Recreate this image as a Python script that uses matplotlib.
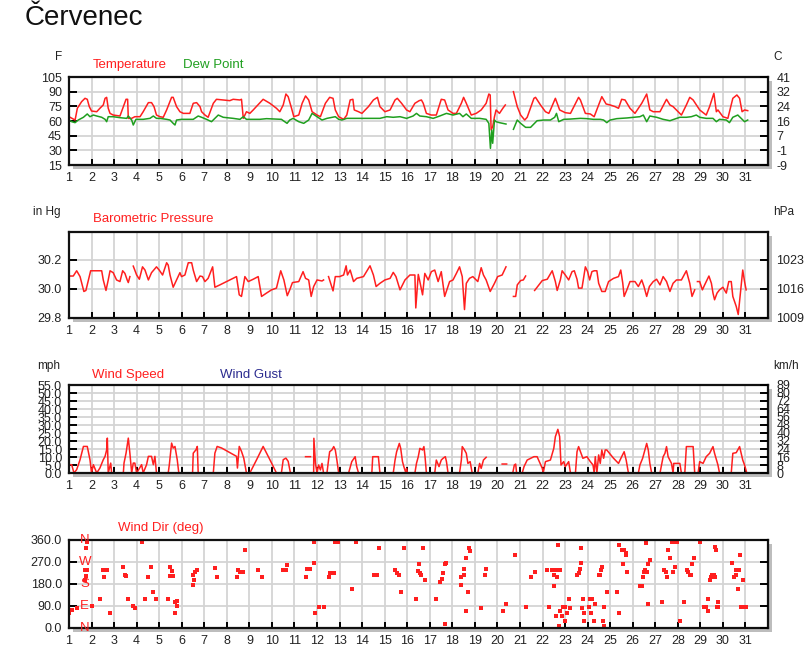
import numpy as np
import matplotlib
matplotlib.use("Agg")
import matplotlib.pyplot as plt
from matplotlib.patches import Rectangle
from matplotlib.transforms import blended_transform_factory

plt.rcParams['font.family'] = ['Liberation Sans', 'DejaVu Sans']

nan = np.nan

month_title = "Červenec"
days = list(range(1, 32))

# (day of month, °F)
temperature = [
    (1.00, 64.4), (1.27, 61.0), (1.37, 73.0), (1.56, 79.8), (1.71, 83.2), (1.81, 82.2), (1.90, 74.7),
    (2.00, 70.2), (2.23, 69.5), (2.37, 73.0), (2.52, 76.4), (2.60, 83.2), (2.67, 84.2), (2.74, 73.0),
    (2.82, 67.8), (2.96, 66.1), (3.26, 65.1), (3.41, 74.7), (3.53, 82.2), (3.60, 82.2), (3.63, 62.7),
    (3.78, 62.7), (3.92, 64.4), (4.15, 64.4), (4.29, 69.5), (4.52, 78.8), (4.66, 78.8), (4.77, 74.7),
    (4.88, 66.1), (5.03, 64.4), (5.18, 63.8), (5.33, 71.3), (5.55, 84.2), (5.62, 84.2), (5.77, 74.7),
    (5.92, 69.5), (6.07, 67.8), (6.36, 67.8), (6.51, 78.1), (6.66, 78.8), (6.81, 74.7), (6.88, 69.5),
    (7.03, 66.1), (7.17, 63.8), (7.40, 78.1), (7.54, 82.2), (7.84, 81.5), (8.13, 80.8), (8.28, 82.2),
    (8.58, 81.5), (8.65, 82.2), (8.73, 62.7), (8.87, 69.5), (9.02, 67.8), (9.17, 71.3), (9.61, 82.2),
    (9.91, 78.1), (10.20, 73.0), (10.35, 69.5), (10.50, 76.4), (10.62, 87.6), (10.72, 84.9), (10.87, 73.0),
    (10.97, 64.4), (11.19, 66.1), (11.34, 78.1), (11.49, 85.6), (11.63, 81.5), (11.78, 69.5), (12.00, 66.1),
    (12.15, 64.4), (12.37, 78.1), (12.56, 84.2), (12.71, 83.2), (12.81, 71.3), (12.96, 64.4), (13.18, 61.7),
    (13.32, 66.1), (13.47, 81.5), (13.59, 82.2), (13.65, 71.3), (13.84, 69.5), (13.99, 67.8), (14.28, 74.7),
    (14.50, 81.5), (14.68, 84.2), (14.79, 74.7), (15.01, 69.5), (15.24, 71.3), (15.46, 81.5), (15.56, 83.2),
    (15.75, 78.1), (15.97, 71.3), (16.12, 69.5), (16.34, 78.1), (16.53, 80.8), (16.63, 81.5), (16.71, 78.1),
    (16.85, 67.8), (17.07, 66.1), (17.29, 66.1), (17.51, 82.2), (17.66, 81.5), (17.81, 71.3), (18.03, 67.8),
    (18.18, 67.8), (18.40, 78.1), (18.50, 84.2), (18.62, 78.1), (18.84, 66.1), (19.06, 67.8), (19.28, 71.3),
    (19.50, 78.1), (19.62, 87.6), (19.68, 86.6), (19.72, 50.8), (19.79, 54.2), (19.87, 64.4), (19.94, 71.3),
    (20.09, 67.8), (20.24, 73.0), (20.35, 76.4), (20.50, nan), (20.71, 90.0), (20.88, 74.7), (21.03, 66.1),
    (21.21, 61.0), (21.32, 63.8), (21.62, 83.2), (21.69, 84.2), (21.91, 76.4), (22.13, 69.5), (22.28, 67.8),
    (22.35, 71.3), (22.57, 83.2), (22.76, 71.3), (23.01, 68.5), (23.24, 67.8), (23.60, 84.2), (23.68, 81.5),
    (23.90, 67.8), (24.12, 67.2), (24.29, 64.4), (24.63, 84.9), (24.82, 77.4), (25.00, 76.4), (25.22, 74.7),
    (25.37, 73.0), (25.51, 82.2), (25.66, 81.5), (25.88, 73.0), (26.10, 67.8), (26.40, 78.1), (26.62, 87.6),
    (26.76, 71.3), (26.91, 69.5), (27.21, 69.5), (27.50, 82.2), (27.65, 76.4), (27.79, 74.7), (28.16, 66.1),
    (28.38, 76.4), (28.53, 84.2), (28.68, 81.5), (28.97, 71.3), (29.26, 66.1), (29.41, 74.7), (29.60, 88.3),
    (29.71, 69.5), (29.78, 71.3), (30.00, 64.4), (30.22, 62.7), (30.44, 83.2), (30.62, 86.6), (30.74, 83.2),
    (30.85, 69.5), (30.96, 71.3), (31.10, 70.6),
]

# (day of month, °F)
dew_point = [
    (1.00, 61.0), (1.12, 59.3), (1.27, 58.3), (1.41, 61.0), (1.64, 63.8), (1.81, 67.2), (1.93, 64.4),
    (2.08, 66.1), (2.23, 65.1), (2.45, 63.8), (2.60, 61.7), (2.67, 59.3), (2.74, 64.4), (2.96, 64.4),
    (3.26, 63.4), (3.56, 62.7), (3.63, 65.1), (3.78, 61.0), (3.85, 55.9), (3.97, 61.7), (4.29, 61.7),
    (4.59, 62.7), (4.74, 65.1), (4.88, 62.7), (5.03, 62.7), (5.33, 61.7), (5.48, 61.0), (5.62, 57.6),
    (5.70, 55.9), (5.77, 61.0), (5.99, 61.7), (6.51, 61.7), (6.73, 65.1), (6.88, 63.8), (7.10, 61.7),
    (7.32, 59.3), (7.54, 64.4), (7.62, 66.1), (7.84, 63.8), (8.28, 62.7), (8.58, 61.7), (8.73, 64.4),
    (8.87, 61.7), (9.46, 61.7), (9.76, 62.4), (10.20, 62.0), (10.42, 61.7), (10.57, 59.3), (10.67, 57.6),
    (10.79, 61.0), (10.94, 62.7), (11.19, 59.3), (11.41, 57.6), (11.63, 61.0), (11.78, 67.8), (12.00, 64.4),
    (12.22, 61.0), (12.44, 62.7), (12.81, 64.4), (12.96, 61.7), (13.10, 61.0), (13.32, 62.7), (14.06, 62.7),
    (14.79, 62.7), (15.09, 64.4), (15.38, 63.8), (15.68, 64.4), (15.97, 62.7), (16.26, 65.1), (16.41, 67.8),
    (16.56, 65.1), (16.85, 64.4), (17.15, 62.7), (17.44, 65.1), (17.74, 67.8), (18.03, 66.1), (18.32, 67.8),
    (18.47, 64.4), (18.62, 67.2), (18.84, 62.7), (19.21, 62.7), (19.50, 61.7), (19.62, 57.6), (19.69, 32.0),
    (19.75, 50.8), (19.79, 37.2), (19.87, 61.0), (19.94, 59.3), (20.09, 58.3), (20.38, 56.9), (20.50, nan),
    (20.71, 51.5), (20.88, 61.0), (21.03, 57.6), (21.25, 53.5), (21.47, 53.5), (21.76, 60.3), (22.06, 61.0),
    (22.35, 61.0), (22.54, 63.8), (22.62, 67.8), (22.72, 59.3), (22.94, 61.7), (23.24, 62.0), (23.68, 62.7),
    (23.97, 62.4), (24.26, 61.7), (24.56, 61.7), (24.71, 61.0), (24.85, 58.3), (25.00, 61.0), (25.29, 62.4),
    (25.74, 63.1), (26.03, 63.8), (26.32, 64.4), (26.47, 66.1), (26.62, 59.3), (26.76, 65.1), (27.06, 63.8),
    (27.35, 61.7), (27.50, 61.0), (27.65, 60.3), (28.09, 63.8), (28.38, 63.8), (28.60, 64.4), (28.82, 66.1),
    (28.97, 63.8), (29.26, 62.7), (29.56, 62.7), (29.71, 59.3), (29.85, 61.7), (30.15, 61.0), (30.29, 58.3),
    (30.44, 63.8), (30.66, 66.1), (30.85, 61.7), (30.96, 59.3), (31.10, 61.0),
]

# (day of month, inHg)
pressure = [
    (1.00, 30.088), (1.19, 30.088), (1.34, 30.124), (1.49, 30.084), (1.66, 29.982), (1.75, 29.989),
    (1.86, 30.061), (1.96, 30.124), (2.45, 30.124), (2.52, 30.061), (2.64, 29.989), (2.74, 30.061),
    (2.82, 30.124), (2.96, 30.111), (3.11, 30.061), (3.26, 30.050), (3.38, 30.124), (3.48, 30.106),
    (3.58, 30.061), (3.63, 30.043), (3.70, 30.084), (3.78, nan), (3.85, 30.156), (4.00, 30.095),
    (4.12, 30.066), (4.26, 30.151), (4.37, 30.129), (4.52, 30.061), (4.66, 30.111), (4.88, 30.151),
    (5.00, 30.129), (5.15, 30.095), (5.33, 30.179), (5.40, 30.163), (5.48, 30.095), (5.62, 30.011),
    (5.77, 30.061), (5.92, 30.111), (5.99, 30.084), (6.14, 30.095), (6.29, 30.179), (6.44, 30.179),
    (6.51, 30.129), (6.66, 30.050), (6.81, 30.088), (6.92, 30.084), (7.03, 30.050), (7.17, 30.072),
    (7.37, 30.151), (7.47, 30.011), (7.69, 30.027), (7.99, 30.050), (8.28, 30.072), (8.43, 30.084),
    (8.55, 29.959), (8.65, 29.948), (8.80, 30.084), (8.95, 30.050), (9.17, 30.066), (9.39, 30.084),
    (9.54, 29.948), (9.76, 29.971), (9.98, 29.993), (10.20, 30.005), (10.39, 30.124), (10.53, 30.061),
    (10.68, 29.953), (10.79, 29.993), (10.91, 30.043), (11.19, 30.050), (11.38, 30.118), (11.49, 30.072),
    (11.63, 30.061), (11.74, 29.948), (11.85, 30.016), (12.00, 30.061), (12.22, 30.054), (12.29, 30.061),
    (12.40, nan), (12.51, 30.084), (12.71, 29.986), (12.81, 30.084), (13.00, 30.084), (13.18, 30.095),
    (13.29, 30.158), (13.35, 30.095), (13.47, 30.129), (13.62, 30.050), (13.76, 30.072), (14.06, 30.084),
    (14.35, 30.158), (14.50, 30.095), (14.62, 30.016), (14.79, 30.038), (15.01, 30.061), (15.24, 30.072),
    (15.38, 30.113), (15.50, 30.084), (15.68, 29.993), (15.90, 30.061), (16.12, 30.095), (16.34, 30.095),
    (16.38, 29.869), (16.49, 30.099), (16.56, 30.050), (16.68, 29.959), (16.78, 30.106), (16.93, 30.061),
    (17.07, 30.118), (17.22, 30.129), (17.37, 30.050), (17.51, 30.118), (17.66, 29.948), (17.88, 30.050),
    (18.03, 30.061), (18.18, 30.106), (18.32, 30.151), (18.44, 30.084), (18.54, 29.858), (18.62, 30.038),
    (18.76, 30.072), (18.91, 30.084), (19.13, 30.050), (19.28, 30.145), (19.38, 30.095), (19.50, 30.061),
    (19.68, 29.982), (19.87, 30.038), (20.01, 30.084), (20.21, 30.095), (20.38, 30.151), (20.50, nan),
    (20.71, 29.948), (20.81, 29.948), (20.88, 30.027), (21.03, 30.057), (21.15, 30.061), (21.25, 30.088),
    (21.40, nan), (21.65, 29.989), (21.84, 30.027), (21.99, 30.057), (22.21, 30.066), (22.43, 30.124),
    (22.57, 30.050), (22.65, 29.989), (22.79, 30.061), (22.87, 30.124), (23.01, 30.095), (23.16, 30.061),
    (23.31, 30.118), (23.41, 30.124), (23.53, 30.066), (23.60, 30.005), (23.75, 30.005), (23.90, 30.151),
    (24.00, 30.118), (24.09, 30.061), (24.19, 30.118), (24.29, 30.124), (24.41, 30.124), (24.49, 30.038),
    (24.63, 29.982), (24.78, 29.982), (24.93, 30.050), (25.15, 30.072), (25.37, 30.084), (25.47, 30.129),
    (25.56, 30.038), (25.62, 29.948), (25.74, 29.993), (25.88, 30.050), (26.10, 30.050), (26.25, 30.016),
    (26.40, 30.061), (26.50, 30.016), (26.62, 29.948), (26.74, 30.016), (26.91, 30.050), (27.06, 30.066),
    (27.21, 30.027), (27.35, 30.084), (27.50, 30.050), (27.65, 29.982), (27.79, 30.038), (27.94, 30.061),
    (28.16, 30.061), (28.38, 30.124), (28.53, 30.038), (28.63, 29.948), (28.75, 29.993), (28.81, nan),
    (28.87, 30.050), (28.97, 30.050), (29.09, 29.993), (29.19, 30.027), (29.38, 30.088), (29.49, 30.038),
    (29.56, 29.971), (29.63, 29.925), (29.74, 29.971), (29.85, 29.993), (30.00, 30.011), (30.15, 29.971),
    (30.26, 30.050), (30.37, 30.050), (30.44, 29.948), (30.59, 29.880), (30.68, 29.824), (30.76, 29.948),
    (30.88, 30.129), (30.96, 30.050), (31.03, 29.993),
]

# (day of month, mph)
wind_speed = [
    (1.00, 5.2), (1.12, 5.2), (1.22, 0.0), (1.34, 2.1), (1.49, 8.3), (1.64, 16.6), (1.81, 16.6),
    (1.93, 8.3), (2.00, 0.0), (2.08, 5.2), (2.23, 0.0), (2.37, 3.1), (2.52, 8.3), (2.60, 10.4),
    (2.67, 14.5), (2.70, 21.8), (2.74, 0.0), (2.85, 6.2), (2.89, 0.0), (3.41, 0.0), (3.44, 6.2),
    (3.53, 12.4), (3.63, 21.8), (3.70, 12.4), (3.78, 0.0), (3.85, 6.2), (3.92, 6.2), (4.00, 0.0),
    (4.22, 5.2), (4.29, 0.0), (4.44, 5.2), (4.52, 10.4), (4.66, 10.4), (4.74, 5.2), (4.81, 10.4),
    (4.88, 0.0), (5.40, 0.0), (5.45, 5.2), (5.55, 18.7), (5.62, 15.6), (5.70, 16.6), (5.80, 8.3),
    (5.87, 0.0), (6.48, 0.0), (6.51, 12.4), (6.63, 14.5), (6.69, 16.6), (6.73, 0.0), (7.40, 0.0),
    (7.47, 12.4), (7.57, 16.6), (7.77, 15.6), (8.43, 10.4), (8.47, 3.1), (8.55, 16.6), (8.65, 13.5),
    (8.75, 9.3), (8.87, 0.0), (9.02, 0.0), (9.32, 8.3), (9.61, 16.6), (9.91, 8.3), (10.20, 0.0),
    (10.42, 0.0), (10.50, 8.3), (10.62, 9.3), (10.72, 7.3), (10.82, 0.0), (11.40, nan), (11.49, 10.2),
    (11.71, 10.2), (11.80, nan), (11.85, 0.0), (11.86, 21.7), (11.93, 6.0), (12.00, 0.0), (12.07, 5.0),
    (12.15, 1.9), (12.22, 6.0), (12.29, 0.0), (12.44, 0.0), (12.51, 8.1), (12.56, 13.3), (12.66, 14.4),
    (12.74, 16.5), (12.81, 14.4), (12.88, 8.1), (12.96, 0.0), (13.40, 0.0), (13.54, 7.1), (13.69, 10.2),
    (13.76, 4.0), (13.84, 0.0), (14.43, 0.0), (14.47, 10.2), (14.72, 10.2), (14.79, 0.0), (15.38, 0.0),
    (15.46, 8.1), (15.53, 13.3), (15.65, 18.5), (15.71, 15.4), (15.79, 7.1), (15.85, 4.0), (15.94, 0.0),
    (15.97, 2.9), (16.01, 0.0), (16.34, 0.0), (16.41, 6.0), (16.49, 10.2), (16.56, 15.4), (16.68, 14.4),
    (16.74, 16.5), (16.79, 10.2), (16.85, 0.0), (17.22, 0.0), (17.29, 8.1), (17.41, 4.0), (17.51, 8.1),
    (17.59, 9.2), (17.69, 10.2), (17.74, 7.1), (17.81, 0.0), (18.32, 0.0), (18.40, 8.1), (18.44, 16.5),
    (18.54, 14.4), (18.62, 12.3), (18.69, 6.0), (18.79, 7.1), (18.88, 0.0), (19.13, 0.0), (19.21, 6.0),
    (19.28, 2.9), (19.38, 8.1), (19.50, 9.8), (19.60, nan), (20.21, 5.6), (20.41, 5.6), (20.55, nan),
    (20.68, 0.0), (20.75, 5.0), (20.81, 5.6), (20.85, 0.0), (21.10, 0.0), (21.18, 4.0), (21.32, 8.1),
    (21.62, 10.2), (21.76, 10.2), (21.99, 2.9), (22.03, 0.0), (22.13, 7.1), (22.35, 8.1), (22.50, 15.4),
    (22.57, 22.7), (22.68, 27.3), (22.76, 22.7), (22.82, 5.0), (22.94, 7.1), (23.01, 4.0), (23.16, 7.1),
    (23.24, 0.0), (23.46, 0.0), (23.53, 13.3), (23.60, 16.5), (23.71, 12.3), (23.79, 9.2), (23.97, 10.2),
    (24.12, 7.1), (24.24, 5.0), (24.29, 0.0), (24.34, 10.2), (24.41, 0.0), (24.49, 11.3), (24.56, 6.0),
    (24.63, 14.4), (24.71, 9.2), (24.78, 14.4), (24.85, 14.4), (25.15, 9.2), (25.37, 6.0), (25.51, 10.2),
    (25.62, 13.3), (25.71, 8.1), (25.81, 0.0), (26.25, 0.0), (26.32, 5.0), (26.44, 9.2), (26.54, 14.4),
    (26.62, 18.5), (26.69, 14.4), (26.76, 6.0), (26.84, 0.0), (27.21, 0.0), (27.35, 10.2), (27.43, 12.3),
    (27.50, 16.5), (27.57, 10.2), (27.72, 6.0), (27.79, 0.0), (27.82, 6.0), (28.09, 6.0), (28.16, 0.0),
    (28.31, 0.0), (28.38, 16.5), (28.68, 16.5), (28.75, 0.0), (28.90, 0.0), (28.97, 7.1), (29.12, 6.0),
    (29.26, 10.2), (29.41, 12.3), (29.56, 16.5), (29.63, 12.3), (29.78, 5.0), (29.85, 0.0), (30.37, 0.0),
    (30.44, 12.3), (30.59, 12.7), (30.74, 16.5), (30.81, 12.3), (30.88, 8.1), (30.96, 5.0), (31.06, 0.0),
]

# (day of month, degrees)
wind_direction = [
    (1.00, 61), (1.12, 72), (1.34, 82), (1.82, 353), (1.75, 326), (1.71, 238), (1.78, 238), (1.75, 213),
    (1.71, 197), (2.00, 88), (2.37, 118), (2.52, 238), (2.67, 238), (2.55, 208), (2.82, 61), (3.41, 249),
    (3.48, 217), (3.53, 211), (3.63, 118), (3.85, 88), (3.93, 82), (4.22, 353), (4.37, 118), (4.52, 208),
    (4.62, 249), (4.74, 149), (4.84, 118), (5.40, 118), (5.50, 249), (5.55, 235), (5.50, 211), (5.62, 211),
    (5.70, 105), (5.70, 61), (5.77, 88), (5.77, 109), (6.48, 177), (6.54, 197), (6.51, 217), (6.58, 231),
    (6.66, 238), (7.47, 245), (7.57, 208), (8.43, 208), (8.50, 238), (8.58, 231), (8.70, 231), (8.80, 319),
    (9.39, 238), (9.58, 208), (10.50, 238), (10.62, 238), (10.68, 258), (11.56, 240), (11.70, 240),
    (11.49, 207), (11.88, 353), (11.88, 265), (11.93, 60), (12.07, 85), (12.29, 85), (12.51, 207),
    (12.59, 226), (12.74, 226), (12.81, 353), (12.91, 353), (13.54, 158), (13.74, 353), (14.53, 217),
    (14.65, 217), (14.74, 329), (15.46, 237), (15.56, 226), (15.65, 217), (15.71, 149), (15.85, 329),
    (16.38, 117), (16.53, 260), (16.49, 235), (16.56, 226), (16.63, 217), (16.70, 329), (16.78, 196),
    (17.29, 117), (17.47, 190), (17.54, 199), (17.59, 226), (17.66, 262), (17.74, 265), (17.69, 16),
    (18.37, 176), (18.40, 207), (18.50, 217), (18.54, 240), (18.59, 71), (18.62, 285), (18.69, 149),
    (18.76, 326), (18.79, 316), (19.28, 80), (19.43, 217), (19.50, 240), (20.26, 71), (20.40, 97),
    (20.78, 298), (21.25, 85), (21.50, 207), (21.66, 228), (22.18, 237), (22.28, 85), (22.43, 237),
    (22.50, 217), (22.53, 170), (22.57, 237), (22.65, 207), (22.68, 237), (22.69, 340), (22.76, 237),
    (22.62, 49), (22.74, 8), (22.79, 71), (22.87, 49), (22.91, 85), (22.99, 85), (23.01, 30), (23.09, 60),
    (23.16, 117), (23.21, 80), (23.53, 217), (23.60, 226), (23.65, 240), (23.71, 267), (23.71, 329),
    (23.79, 117), (23.75, 80), (23.85, 60), (23.82, 29), (24.04, 85), (24.09, 117), (24.19, 117),
    (24.16, 60), (24.29, 29), (24.34, 97), (24.49, 217), (24.56, 217), (24.60, 237), (24.63, 251),
    (24.68, 29), (24.74, 85), (24.74, 8), (24.85, 149), (25.29, 149), (25.37, 60), (25.41, 340),
    (25.51, 319), (25.62, 319), (25.71, 308), (25.71, 299), (25.59, 262), (25.76, 228), (26.32, 170),
    (26.40, 170), (26.44, 207), (26.50, 228), (26.54, 237), (26.62, 228), (26.59, 349), (26.69, 262),
    (26.76, 278), (26.66, 97), (27.28, 108), (27.38, 237), (27.46, 228), (27.53, 207), (27.57, 319),
    (27.65, 288), (27.76, 353), (27.87, 353), (27.97, 353), (27.79, 228), (27.87, 248), (28.09, 29),
    (28.26, 108), (28.41, 237), (28.46, 228), (28.53, 217), (28.60, 217), (28.65, 262), (28.71, 288),
    (28.97, 353), (29.15, 85), (29.24, 85), (29.34, 117), (29.34, 71), (29.41, 196), (29.49, 207),
    (29.53, 217), (29.59, 217), (29.63, 207), (29.68, 319), (29.63, 330), (29.74, 85), (29.78, 108),
    (29.78, 87), (30.41, 267), (30.49, 207), (30.56, 237), (30.59, 217), (30.66, 237), (30.72, 237),
    (30.69, 160), (30.76, 299), (30.88, 196), (30.81, 85), (30.96, 85), (31.03, 85),
]

temp_ticks = [15, 30, 45, 60, 75, 90, 105]
temp_c_labels = ["-9", "-1", "7", "16", "24", "32", "41"]
baro_ticks = [29.8, 30.0, 30.2]
baro_hpa_labels = ["1009", "1016", "1023"]
wind_ticks = [0, 5, 10, 15, 20, 25, 30, 35, 40, 45, 50, 55]
wind_kmh_labels = ["0", "8", "16", "24", "32", "40", "48", "56", "64", "72", "80", "89"]
dir_ticks = [0, 90, 180, 270, 360]
compass_labels = ["N", "E", "S", "W", "N"]

RED = "#ff1f1f"
GREEN = "#1f9f1f"
NAVY = "#2b2b8f"
TXT = "#222222"

W, H = 805, 646
fig = plt.figure(figsize=(W / 100, H / 100), dpi=100)
fig.patch.set_facecolor("white")

LEFT_PX, RIGHT_PX = 69, 768


def fx(px):
    return px / W


def fy(py):
    return 1 - py / H


def make_panel(top_px, bottom_px, yticks, ylabels, ylim, right_labels, show_right_labels=True):
    w = (RIGHT_PX - LEFT_PX) / W
    h = (bottom_px - top_px) / H
    # drop shadow behind the frame
    fig.patches.append(Rectangle((fx(LEFT_PX + 4), fy(bottom_px + 4)), w, h,
                                 transform=fig.transFigure, facecolor="#bdbdbd",
                                 edgecolor="none", zorder=-1))
    ax = fig.add_axes([fx(LEFT_PX), fy(bottom_px), w, h])
    ax.set_facecolor("white")
    ax.set_xlim(1, 32)
    ax.set_ylim(*ylim)
    ax.set_xticks(days)
    ax.set_xticklabels([str(d) for d in days])
    ax.set_yticks(yticks)
    ax.set_yticklabels(ylabels)
    ax.grid(True, color="#d4d4d4", linewidth=1.3)
    ax.set_axisbelow(True)
    for s in ax.spines.values():
        s.set_linewidth(1.6)
        s.set_color("#111111")
    ax.tick_params(axis="x", direction="in", length=4, width=1.4, pad=5,
                   labelsize=9, labelcolor=TXT, top=False)
    ax.tick_params(axis="y", direction="in", length=6, width=1.4, pad=5,
                   labelsize=9, labelcolor=TXT, right=False)
    r = ax.twinx()
    r.set_ylim(*ylim)
    r.set_yticks(yticks)
    if show_right_labels:
        r.set_yticklabels(right_labels)
    else:
        r.set_yticklabels([])
    r.tick_params(axis="y", direction="in", length=6, width=1.4, pad=6,
                  labelsize=9, labelcolor=TXT)
    for s in r.spines.values():
        s.set_visible(False)
    return ax


def unzip(pairs):
    t = np.array([p[0] for p in pairs], dtype=float)
    v = np.array([p[1] for p in pairs], dtype=float)
    return t, v


# Title
fig.text(fx(25), fy(18), month_title, fontsize=20, color="#111111", va="center", ha="left")

# Temperature / dew point
ax1 = make_panel(77, 165, temp_ticks, [str(v) for v in temp_ticks], (15, 105), temp_c_labels)
t, v = unzip(temperature)
ax1.plot(t, v, color=RED, lw=1.1)
t, v = unzip(dew_point)
ax1.plot(t, v, color=GREEN, lw=1.1)
fig.text(fx(62), fy(57), "F", fontsize=8.5, color=TXT, ha="right", va="center")
fig.text(fx(773), fy(57), "C", fontsize=8.5, color=TXT, ha="left", va="center")
fig.text(fx(93), fy(65), "Temperature", fontsize=9.5, color=RED, va="center")
fig.text(fx(183), fy(65), "Dew Point", fontsize=9.5, color=GREEN, va="center")

# Barometric pressure
ax2 = make_panel(232, 318, baro_ticks, ["%.1f" % v for v in baro_ticks], (29.8, 30.39), baro_hpa_labels)
t, v = unzip(pressure)
ax2.plot(t, v, color=RED, lw=1.1)
fig.text(fx(60), fy(212), "in Hg", fontsize=8.5, color=TXT, ha="right", va="center")
fig.text(fx(773), fy(212), "hPa", fontsize=8.5, color=TXT, ha="left", va="center")
fig.text(fx(93), fy(219), "Barometric Pressure", fontsize=9.5, color=RED, va="center")

# Wind speed
ax3 = make_panel(385, 473, wind_ticks, ["%.1f" % v for v in wind_ticks], (0, 55), wind_kmh_labels)
t, v = unzip(wind_speed)
ax3.plot(t, v, color=RED, lw=1.1)
fig.text(fx(60), fy(366), "mph", fontsize=8.5, color=TXT, ha="right", va="center")
fig.text(fx(773), fy(366), "km/h", fontsize=8.5, color=TXT, ha="left", va="center")
fig.text(fx(92), fy(375), "Wind Speed", fontsize=9.5, color=RED, va="center")
fig.text(fx(220), fy(375), "Wind Gust", fontsize=9.5, color=NAVY, va="center")

# Wind direction
ax4 = make_panel(540, 628, dir_ticks, ["%.1f" % v for v in dir_ticks], (0, 360), [], show_right_labels=False)
t, v = unzip(wind_direction)
ax4.plot(t, v, linestyle="none", marker="s", markersize=3.3, color=RED, markeredgewidth=0)
trans = blended_transform_factory(ax4.transAxes, ax4.transData)
for deg, lab in zip(dir_ticks, compass_labels):
    ax4.text(0.0225, deg, lab, transform=trans, color=RED, fontsize=9.5,
             ha="center", va="center", clip_on=False, zorder=5)
fig.text(fx(118), fy(528), "Wind Dir (deg)", fontsize=9.5, color=RED, va="center")

fig.savefig("out.png", dpi=100, facecolor="white")
